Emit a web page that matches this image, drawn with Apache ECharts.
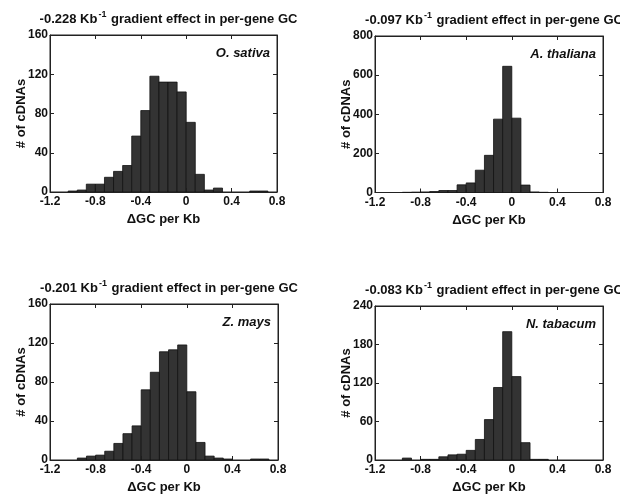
<!DOCTYPE html>
<html>
<head>
<meta charset="utf-8">
<script src="https://cdn.jsdelivr.net/npm/echarts@6/dist/echarts.min.js"></script>
<style>
html,body{margin:0;padding:0;background:#fff;}
#c{width:620px;height:495px;}
</style>
</head>
<body>
<div id="c"></div>
<script>
// Histogram bins (left edges), width 0.08
const binStart = [-1.2,-1.12,-1.04,-0.96,-0.88,-0.8,-0.72,-0.64,-0.56,-0.48,-0.4,-0.32,-0.24,-0.16,-0.08,0,0.08,0.16,0.24,0.32,0.4,0.48,0.56,0.64,0.72];
const binWidth = 0.08;

const sativa   = [0,0,1,2,8,8,15,21,27,57,83,118,112,112,102,71,18,2,4,0,0,0,1,1,0];
const thaliana = [0,0,0,1,2,3,5,10,10,39,49,114,190,375,645,380,38,3,1,0,0,0,0,0,0];
const mays     = [0,0,0,2,4,5,9,17,27,35,72,90,111,113,118,70,18,4,2,1,0,0,1,1,0];
const tabacum  = [0,0,0,3,0,1,1,5,8,9,15,32,63,113,200,130,27,1,1,0,0,0,0,0,0];

const species = ['O. sativa','A. thaliana','Z. mays','N. tabacum'];
const gradients = ['-0.228','-0.097','-0.201','-0.083'];
const yMax = [160, 800, 160, 240];
const yInterval = [40, 200, 40, 60];
const counts = [sativa, thaliana, mays, tabacum];

const grids = [
  {left:50, top:35, width:227, height:157},
  {left:375, top:36, width:228, height:156.5},
  {left:50, top:304, width:228, height:158},
  {left:375, top:306, width:228, height:156.5}
];

const FONT = 'Liberation Sans';
const txt = {color:'#111', fontFamily:FONT, fontWeight:'bold'};

const chart = echarts.init(document.getElementById('c'), null, {renderer:'canvas'});

const option = {
  backgroundColor:'#fff',
  animation:false,
  grid: grids.map(g => Object.assign({show:true, borderColor:'#222', borderWidth:1, backgroundColor:'transparent'}, g)),
  title: [],
  xAxis: [],
  yAxis: [],
  series: [],
  graphic: []
};

grids.forEach((g, i) => {
  option.title.push({
    text: '{a|' + gradients[i] + ' Kb}{s|-1}{a| gradient effect in per-gene GC}',
    left: g.left + g.width/2,
    top: g.top - 30,
    textAlign: 'center',
    textStyle: {
      rich: {
        a: Object.assign({fontSize:13}, txt),
        s: Object.assign({fontSize:9, padding:[0,1,9,1]}, txt)
      }
    }
  });
  const lineCfg = {show:true, onZero:false, lineStyle:{color:'#222', width:1}};
  const tickCfg = {show:true, inside:true, length:4, lineStyle:{color:'#222'}};
  option.xAxis.push({
    gridIndex:i, type:'value', min:-1.2, max:0.8, interval:0.4,
    name:'ΔGC per Kb', nameLocation:'middle', nameGap:21,
    nameTextStyle:Object.assign({fontSize:13}, txt),
    axisLine:lineCfg, axisTick:tickCfg,
    axisLabel:Object.assign({fontSize:12, margin:4}, txt),
    splitLine:{show:false}
  });
  option.xAxis.push({
    gridIndex:i, type:'value', min:-1.2, max:0.8, interval:0.4, position:'top',
    axisLine:lineCfg, axisTick:tickCfg,
    axisLabel:{show:false}, splitLine:{show:false}
  });
  option.yAxis.push({
    gridIndex:i, type:'value', min:0, max:yMax[i], interval:yInterval[i],
    name:'# of cDNAs', nameLocation:'middle', nameGap:22, nameRotate:90,
    nameMoveOverlap:false,
    nameTextStyle:Object.assign({fontSize:13}, txt),
    axisLine:lineCfg, axisTick:tickCfg,
    axisLabel:Object.assign({fontSize:12, margin:2}, txt),
    splitLine:{show:false}
  });
  option.yAxis.push({
    gridIndex:i, type:'value', min:0, max:yMax[i], interval:yInterval[i], position:'right',
    axisLine:lineCfg, axisTick:tickCfg,
    axisLabel:{show:false}, splitLine:{show:false}
  });
  const data = binStart.map((b, k) => [b, b + binWidth, counts[i][k]]);
  option.series.push({
    type:'custom',
    xAxisIndex:2*i, yAxisIndex:2*i,
    data:data,
    clip:true,
    renderItem:function(params, api){
      const v = api.value(2);
      if (!v) return null;
      const p0 = api.coord([api.value(0), v]);
      const p1 = api.coord([api.value(1), 0]);
      return {
        type:'rect',
        shape:{x:p0[0], y:p0[1], width:p1[0]-p0[0], height:p1[1]-p0[1]},
        style:{fill:'#333333', stroke:'#111', lineWidth:0.8}
      };
    }
  });
  option.graphic.push({
    type:'text',
    right: 620 - (g.left + g.width) + 7,
    top: g.top + 12,
    style:{text:species[i], font:'italic bold 13px "Liberation Sans"', fill:'#111'}
  });
});

chart.setOption(option);
</script>
</body>
</html>
